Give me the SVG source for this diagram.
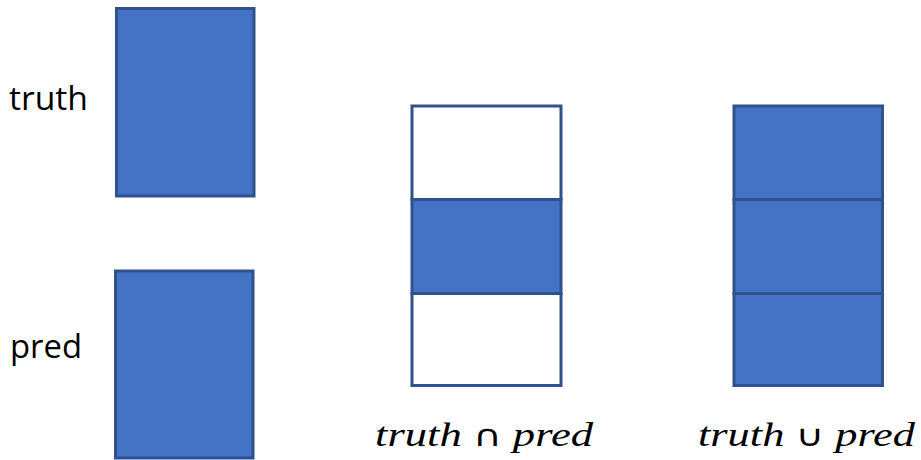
<svg xmlns="http://www.w3.org/2000/svg" width="921" height="460" viewBox="0 0 921 460">
<style>
.f{fill:#4472C4;stroke:#2F528F;stroke-width:3}
.e{fill:#FFFFFF;stroke:#2F528F;stroke-width:3}
.lbl{font-family:"Open Sans","Liberation Sans",sans-serif;font-size:32px;fill:#000}
.m{font-family:"Liberation Serif","DejaVu Serif",serif;font-size:34px;font-style:italic;fill:#000}
.op{font-style:normal;font-family:"DejaVu Sans","Liberation Serif",serif;font-size:30px}
</style>
<rect width="921" height="460" fill="#fff"/>
<g id="truth">
<text class="lbl" x="9" y="110" textLength="79" lengthAdjust="spacingAndGlyphs">truth</text>
<rect class="f" x="116.5" y="8.5" width="137.5" height="187.5"/>
</g>
<g id="pred">
<text class="lbl" x="10" y="358" textLength="72" lengthAdjust="spacingAndGlyphs">pred</text>
<rect class="f" x="115.5" y="271" width="137.5" height="187"/>
</g>
<g id="intersection">
<rect class="e" x="412" y="106" width="149" height="93.5"/>
<rect class="f" x="412" y="199.5" width="149" height="94"/>
<rect class="e" x="412" y="293.5" width="149" height="92"/>
<text class="m" x="375" y="446" textLength="218" lengthAdjust="spacingAndGlyphs">truth <tspan class="op">∩</tspan> pred</text>
</g>
<g id="union">
<rect class="f" x="734" y="106" width="148.5" height="93.5"/>
<rect class="f" x="734" y="199.5" width="148.5" height="94"/>
<rect class="f" x="734" y="293.5" width="148.5" height="92"/>
<text class="m" x="698" y="446" textLength="217" lengthAdjust="spacingAndGlyphs">truth <tspan class="op">∪</tspan> pred</text>
</g>
<g id="connectors"/>
</svg>
